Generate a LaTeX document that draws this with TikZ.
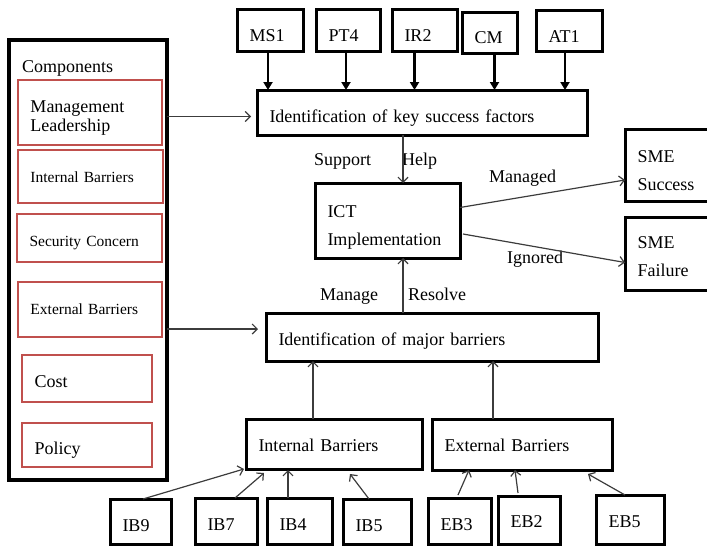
\documentclass[tikz,border=0pt]{standalone}
\usepackage{fontspec}
\setmainfont{Liberation Serif}
\usepackage{xcolor}
\usepackage{tikz}
\usetikzlibrary{positioning,calc,arrows.meta}
\definecolor{boxred}{RGB}{192,80,77}
\definecolor{arrgray}{RGB}{60,60,60}
\newcommand{\mainfs}{\fontsize{18}{19}\selectfont}
\newcommand{\smallfs}{\fontsize{15.5}{18}\selectfont}
\newcommand{\widefs}{\fontsize{18}{28}\selectfont}
\tikzset{
  box/.style={draw, line width=3pt, anchor=north west, align=left, inner xsep=12.5pt, inner ysep=0pt, outer sep=0pt, text height=32pt, font=\mainfs},
  redbox/.style={box, draw=boxred, line width=2.5pt},
  arr/.style={draw=arrgray, line width=1.2pt, -{Straight Barb[length=5pt,width=10pt]}},
  bigarr/.style={line width=2.8pt, -{Triangle[length=8pt,width=9pt]}},
  lbl/.style={anchor=base west, inner sep=0pt, font=\mainfs}
}

\begin{document}
\begin{tikzpicture}[x=1pt, y=-1pt]
    \path[use as bounding box] (0,0) rectangle (707,546);
    \clip (0,0) rectangle (707,546);
    % components column
    \node[box, line width=3.4pt, minimum width=158pt, minimum height=440pt] (comp) at (9,40) {};
    \node[lbl] (comptitle) at (22,72) {Components};
    \node[redbox, text width=119pt, text depth=33pt] (mgmt) at (18,80) {Management\\Leadership};
    \node[redbox, text width=120pt, text depth=21pt, font=\smallfs] (intr) at (18,150) {Internal Barriers};
    \node[redbox, text width=120pt, text depth=16pt, font=\smallfs] (sec) at (17,214) {Security Concern};
    \node[redbox, text width=119pt, text depth=23pt, font=\smallfs] (extr) at (18,282) {External Barriers};
    \node[redbox, text width=105pt, text depth=15pt] (cost) at (22,355) {Cost};
    \node[redbox, text width=105pt, text height=31pt, text depth=13pt] (pol) at (22,423) {Policy};
    % success factors
    \node[box, text width=41pt, text depth=10pt] (ms1) at (237,9) {MS1};
    \node[box, text width=39pt, text depth=10pt] (pt4) at (316,9) {PT4};
    \node[box, text width=40pt, text depth=10pt] (ir2) at (392,9) {IR2};
    \node[box, text width=30pt, text height=31pt, text depth=10pt] (cm) at (462,12) {CM};
    \node[box, text width=41pt, text depth=9pt] (at1) at (536,10) {AT1};
    \node[box, text width=305pt, text depth=13pt] (key) at (257,90) {Identification of key success factors};
    % implementation and outcome
    \node[box, text width=120pt, text height=34pt, text depth=41pt, font=\widefs] (ict) at (315,183) {ICT\\Implementation};
    \node[box, text width=70pt, text height=33pt, text depth=39pt, font=\widefs] (succ) at (625,129) {SME\\Success};
    \node[box, text width=70pt, text height=31pt, text depth=42pt, font=\widefs] (fail) at (625,217) {SME\\Failure};
    \node[box, text width=307pt, text depth=16pt] (major) at (266,313) {Identification of major barriers};
    % barriers
    \node[box, text width=151pt, text depth=18pt] (intb) at (246,419) {Internal Barriers};
    \node[box, text width=155pt, text depth=19pt] (extb) at (432,419) {External Barriers};
    \node[box, text width=36pt, text depth=13pt] (ib9) at (110,499) {IB9};
    \node[box, text width=37pt, text depth=14pt] (ib7) at (195,498) {IB7};
    \node[box, text width=40pt, text depth=14pt] (ib4) at (267,498) {IB4};
    \node[box, text width=43pt, text depth=13pt] (ib5) at (343,499) {IB5};
    \node[box, text width=38pt, text depth=14pt] (eb3) at (428,498) {EB3};
    \node[box, text width=37pt, text height=31pt, text depth=17pt] (eb2) at (498,496) {EB2};
    \node[box, text width=43pt, text depth=17pt] (eb5) at (596,495) {EB5};
    % labels
    \node[lbl] (support) at (314,165) {Support};
    \node[lbl] (help) at (402,165) {Help};
    \node[lbl] (managed) at (489,182) {Managed};
    \node[lbl] (ignored) at (507,263) {Ignored};
    \node[lbl] (manage) at (320,300) {Manage};
    \node[lbl] (resolve) at (408,300) {Resolve};
    % arrows
    \foreach \n/\dx in {ms1/-2, pt4/-2, ir2/-10, cm/5, at1/-4}
        \draw[bigarr] ($(\n.south)+(\dx,0)$) -- ($(\n.south |- key.north)+(\dx,0)$);
    \coordinate (keyin) at ($(key.west)+(0,4)$);
    \draw[arr] (comp.east |- keyin) -- ($(keyin)+(-6,0)$);
    \coordinate (majin) at ($(major.west)+(0,-8)$);
    \draw[arr] (comp.east |- majin) -- ($(majin)+(-8,0)$);
    \coordinate (ictup) at ($(ict.north)+(15.5,0)$);
    \draw[arr] (ictup |- key.south) -- (ictup);
    \coordinate (ictdn) at ($(ict.south)+(15.5,0)$);
    \draw[arr] (ictdn |- major.north) -- (ictdn);
    \draw[arr] ($(ict.east)+(0,-13)$) -- ($(succ.west)+(0,15)$);
    \draw[arr] ($(ict.east)+(3,13.5)$) -- ($(fail.west)+(0,9)$);
    \coordinate (intup) at ($(intb.north)+(-21,0)$);
    \draw[arr] (intup) -- (intup |- major.south);
    \coordinate (extup) at ($(extb.north)+(-29,0)$);
    \draw[arr] (extup) -- (extup |- major.south);
    \draw[arr] ($(ib9.north)+(2.5,0)$) -- ($(intb.south west)+(-2,0)$);
    \draw[arr] ($(ib7.north)+(9,0)$) -- ($(intb.south west)+(18,4)$);
    \draw[arr] ($(ib4.north)+(-11.5,0)$) -- ($(intb.south west)+(42,1)$);
    \draw[arr] ($(ib5.north)+(-8,0)$) -- ($(intb.south west)+(104,5)$);
    \draw[arr] ($(eb3.north)+(-1.5,-3)$) -- ($(extb.south west)+(37,0)$);
    \draw[arr] ($(eb2.north)+(-11,-3)$) -- ($(extb.south west)+(83,0)$);
    \draw[arr] ($(eb5.north)+(-5,0)$) -- ($(extb.south east)+(-24,4)$);
\end{tikzpicture}
\end{document}
